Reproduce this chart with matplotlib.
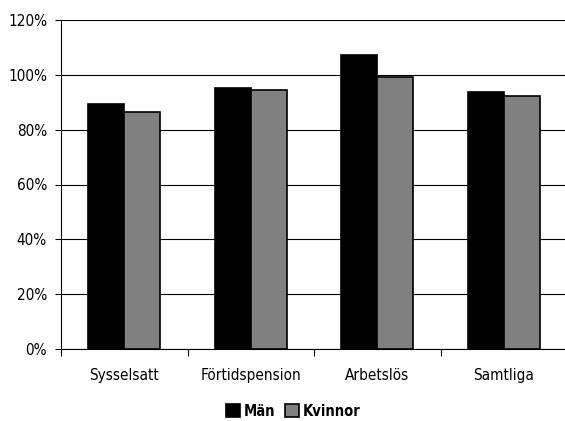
import matplotlib
matplotlib.use("Agg")
import matplotlib.pyplot as plt
from matplotlib.ticker import FixedLocator, PercentFormatter, NullFormatter
import numpy as np

categories = ["Sysselsatt", "Förtidspension", "Arbetslös", "Samtliga"]
man = [89.5, 95.3, 107.1, 93.6]
kvinnor = [86.5, 94.6, 99.1, 92.3]
series_names = ["Män", "Kvinnor"]

plt.rcParams["font.family"] = ["DejaVu Sans"]
plt.rcParams["font.stretch"] = "condensed"

fig = plt.figure(figsize=(5.65, 4.21), dpi=100)
ax = fig.add_axes([61 / 565, 1 - 349 / 421, 506 / 565, 329 / 421])

x = np.arange(len(categories))
w = 0.285
ax.bar(x - w / 2, man, w, color="black", edgecolor="black", linewidth=1.2,
       label=series_names[0], zorder=3)
ax.bar(x + w / 2, kvinnor, w, color="#808080", edgecolor="black", linewidth=1.2,
       label=series_names[1], zorder=3)

ax.set_xlim(-0.5, len(categories) - 0.5)
ax.set_ylim(0, 120)
ax.set_yticks(np.arange(0, 121, 20))
ax.yaxis.set_major_formatter(PercentFormatter(decimals=0))
ax.yaxis.grid(True, color="black", linewidth=0.8, zorder=0)

ax.xaxis.set_major_locator(FixedLocator(np.arange(-0.5, len(categories), 1.0)))
ax.xaxis.set_major_formatter(NullFormatter())
ax.xaxis.set_minor_locator(FixedLocator(x))
ax.set_xticklabels(categories, minor=True)
ax.tick_params(axis="x", which="minor", length=0, pad=14, labelsize=11)
ax.tick_params(axis="x", which="major", length=5, direction="out", width=0.8)
ax.tick_params(axis="y", length=4, direction="out", width=0.8, labelsize=11, pad=6)

for s in ["top", "right"]:
    ax.spines[s].set_visible(False)
ax.spines["left"].set_linewidth(0.8)
ax.spines["bottom"].set_linewidth(0.8)

leg = fig.legend(loc="center", bbox_to_anchor=(0.519, 1 - 411 / 421), ncol=2,
                 frameon=False, handlelength=0.95, handleheight=0.95,
                 handletextpad=0.25, columnspacing=0.7,
                 prop={"weight": "bold", "size": 10.5, "stretch": "condensed"})

fig.savefig("out.png", dpi=100)
